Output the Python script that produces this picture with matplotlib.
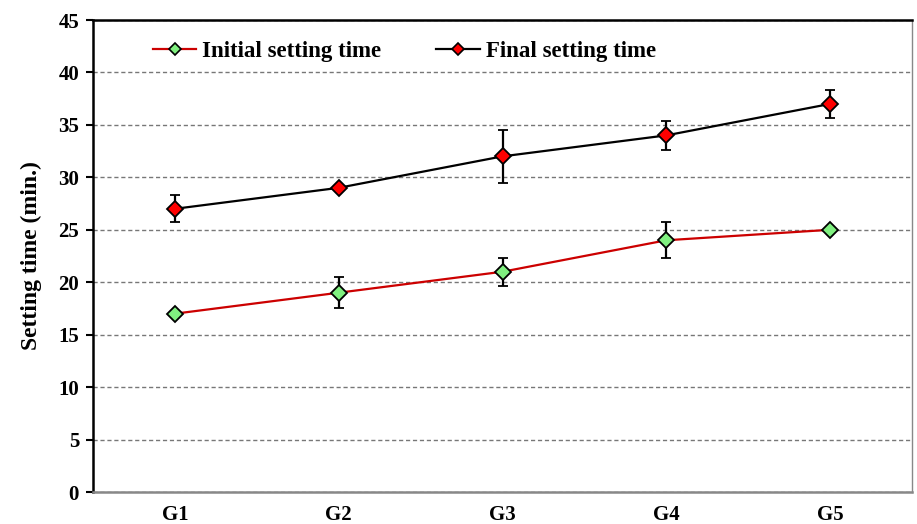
import numpy as np
import matplotlib.pyplot as plt
from matplotlib.lines import Line2D

groups = ['G1', 'G2', 'G3', 'G4', 'G5']
initial = [17, 19, 21, 24, 25]
initial_err = [0, 1.5, 1.35, 1.7, 0]
final = [27, 29, 32, 34, 37]
final_err = [1.3, 0, 2.5, 1.35, 1.35]

plt.rcParams['font.family'] = 'Liberation Serif'
plt.rcParams['font.weight'] = 'bold'

fig = plt.figure(figsize=(9.17, 5.24), dpi=100)
ax = fig.add_axes([93 / 917, 32 / 524, 819 / 917, 472 / 524])

x = np.arange(len(groups)) + 0.5

ax.errorbar(x, initial, yerr=initial_err, color='#cc0000', lw=1.6, marker='D', ms=8.5,
            mfc='#80f080', mec='black', mew=1.3, ecolor='black', elinewidth=1.6,
            capsize=3.5, capthick=1.6, zorder=3)
ax.errorbar(x, final, yerr=final_err, color='black', lw=1.6, marker='D', ms=8.5,
            mfc='#ff0000', mec='black', mew=1.3, ecolor='black', elinewidth=1.6,
            capsize=3.5, capthick=1.6, zorder=3)

ax.set_xlim(0, len(groups))
ax.set_ylim(0, 45)
ax.set_yticks(np.arange(0, 46, 5))
ax.set_xticks(x)
ax.set_xticklabels(groups)
ax.tick_params(axis='x', length=0, pad=9, labelsize=15)
ax.tick_params(axis='y', direction='out', length=5, width=1.5, labelsize=15, pad=5)
ax.yaxis.grid(True, linestyle=(0, (3, 2)), color='#777777', lw=1)
ax.set_axisbelow(True)

ax.spines['left'].set_linewidth(1.8)
ax.spines['top'].set_linewidth(1.8)
ax.spines['bottom'].set_color('#888888')
ax.spines['bottom'].set_linewidth(1.8)
ax.spines['right'].set_color('#888888')
ax.spines['right'].set_linewidth(1.0)

ax.set_ylabel('Setting time (min.)', fontsize=17, fontweight='bold', labelpad=12)

handles = [
    Line2D([], [], color='#cc0000', lw=1.6, marker='D', ms=6.5, mfc='#80f080', mec='black', mew=1.2),
    Line2D([], [], color='black', lw=1.6, marker='D', ms=6.5, mfc='#ff0000', mec='black', mew=1.2),
]
ax.legend(handles, ['Initial setting time', 'Final setting time'], loc='upper left',
          bbox_to_anchor=(0.048, 1.0), ncol=2, frameon=False, fontsize=16.5,
          handlelength=1.9, columnspacing=2.4, handletextpad=0.25)

fig.savefig('out.png', dpi=100)
